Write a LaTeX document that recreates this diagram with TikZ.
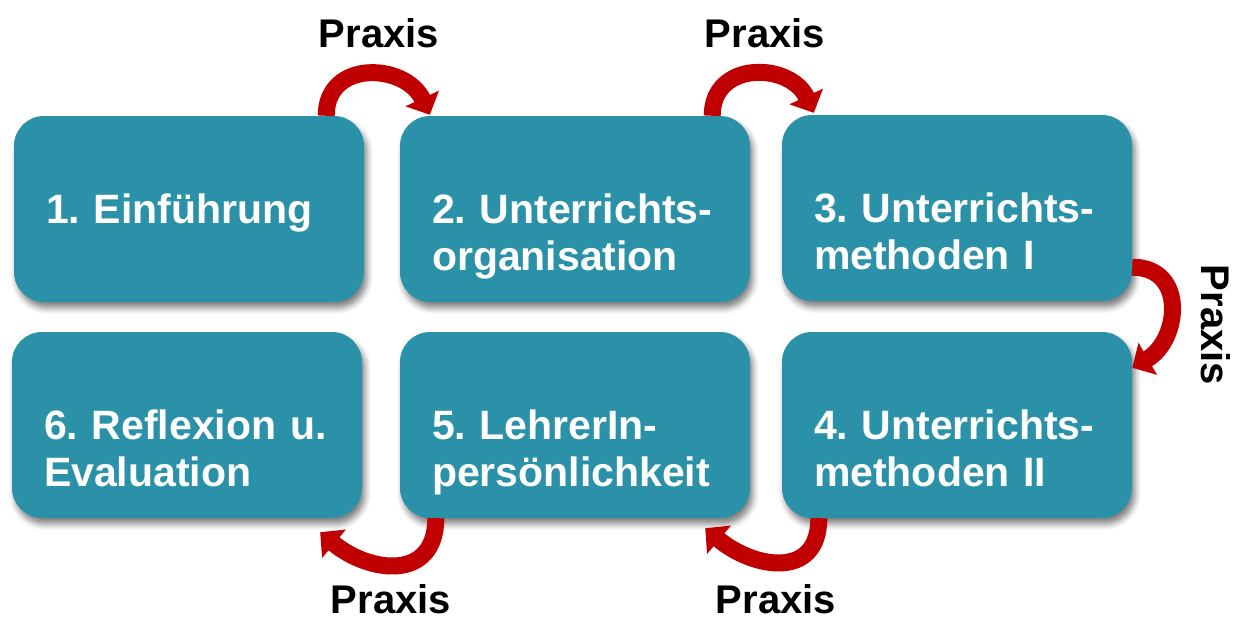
\documentclass[tikz,border=0pt]{standalone}
\usepackage{fontspec}
\setmainfont{Liberation Sans}
\usepackage{xcolor}
\usetikzlibrary{arrows.meta,calc,shadows.blur}

\definecolor{stageteal}{HTML}{2A91A8}
\definecolor{praxisred}{HTML}{C00000}

\tikzset{
  stage/.style={fill=stageteal, rounded corners=30pt, minimum width=350pt, minimum height=186pt,
    text width=286pt, align=left, text=white, text depth=0pt,
    font=\fontsize{41}{47}\selectfont\bfseries\frenchspacing,
    blur shadow={shadow xshift=3pt, shadow yshift=-6pt, shadow blur radius=6pt, shadow opacity=50}},
  loop/.style={line width=17pt, draw=praxisred, -{Triangle[length=18pt,width=36pt]}},
  praxis/.style={inner sep=0pt, font=\fontsize{40}{46}\selectfont\bfseries}
}

\begin{document}
\begin{tikzpicture}[x=1pt,y=1pt]
    \useasboundingbox (0,0) rectangle (1236,-621);

    % the six stages
    \node[stage] (b1) at (189,-209) {1. Einführung};
    \node[stage] (b2) at (575,-209) {2. Unterrichts-\\organisation};
    \node[stage] (b3) at (957,-208) {3. Unterrichts-\\methoden I};
    \node[stage] (b4) at (957,-425) {4. Unterrichts-\\methoden II};
    \node[stage] (b5) at (575,-425) {5. LehrerIn-\\persönlichkeit};
    \node[stage] (b6) at (187,-425) {6. Reflexion u.\\Evaluation};

    % Praxis loops
    \draw[loop] ($(b1.north east)+(-38,0)$) to[out=90,in=115,looseness=1.4] ($(b2.north west)+(30,1)$);
    \draw[loop] ($(b2.north east)+(-38,0)$) to[out=90,in=115,looseness=1.4] ($(b3.north west)+(32,2)$);
    \draw[loop] ($(b3.south east)+(0,34)$) to[out=0,in=30,looseness=1.4] ($(b4.north east)+(0,-36)$);
    \draw[loop] ($(b4.south west)+(37,0)$) to[out=-90,in=-40,looseness=1.4] ($(b5.south east)+(-45,-10)$);
    \draw[loop] ($(b5.south west)+(36,0)$) to[out=-90,in=-40,looseness=1.4] ($(b6.south east)+(-42,-14)$);

    \node[praxis] (p12) at (379,-33) {Praxis};
    \node[praxis] (p23) at (765,-33) {Praxis};
    \node[praxis, rotate=-90] (p34) at (1216,-325) {Praxis};
    \node[praxis] (p45) at (776,-599) {Praxis};
    \node[praxis] (p56) at (391,-599) {Praxis};
\end{tikzpicture}
\end{document}
